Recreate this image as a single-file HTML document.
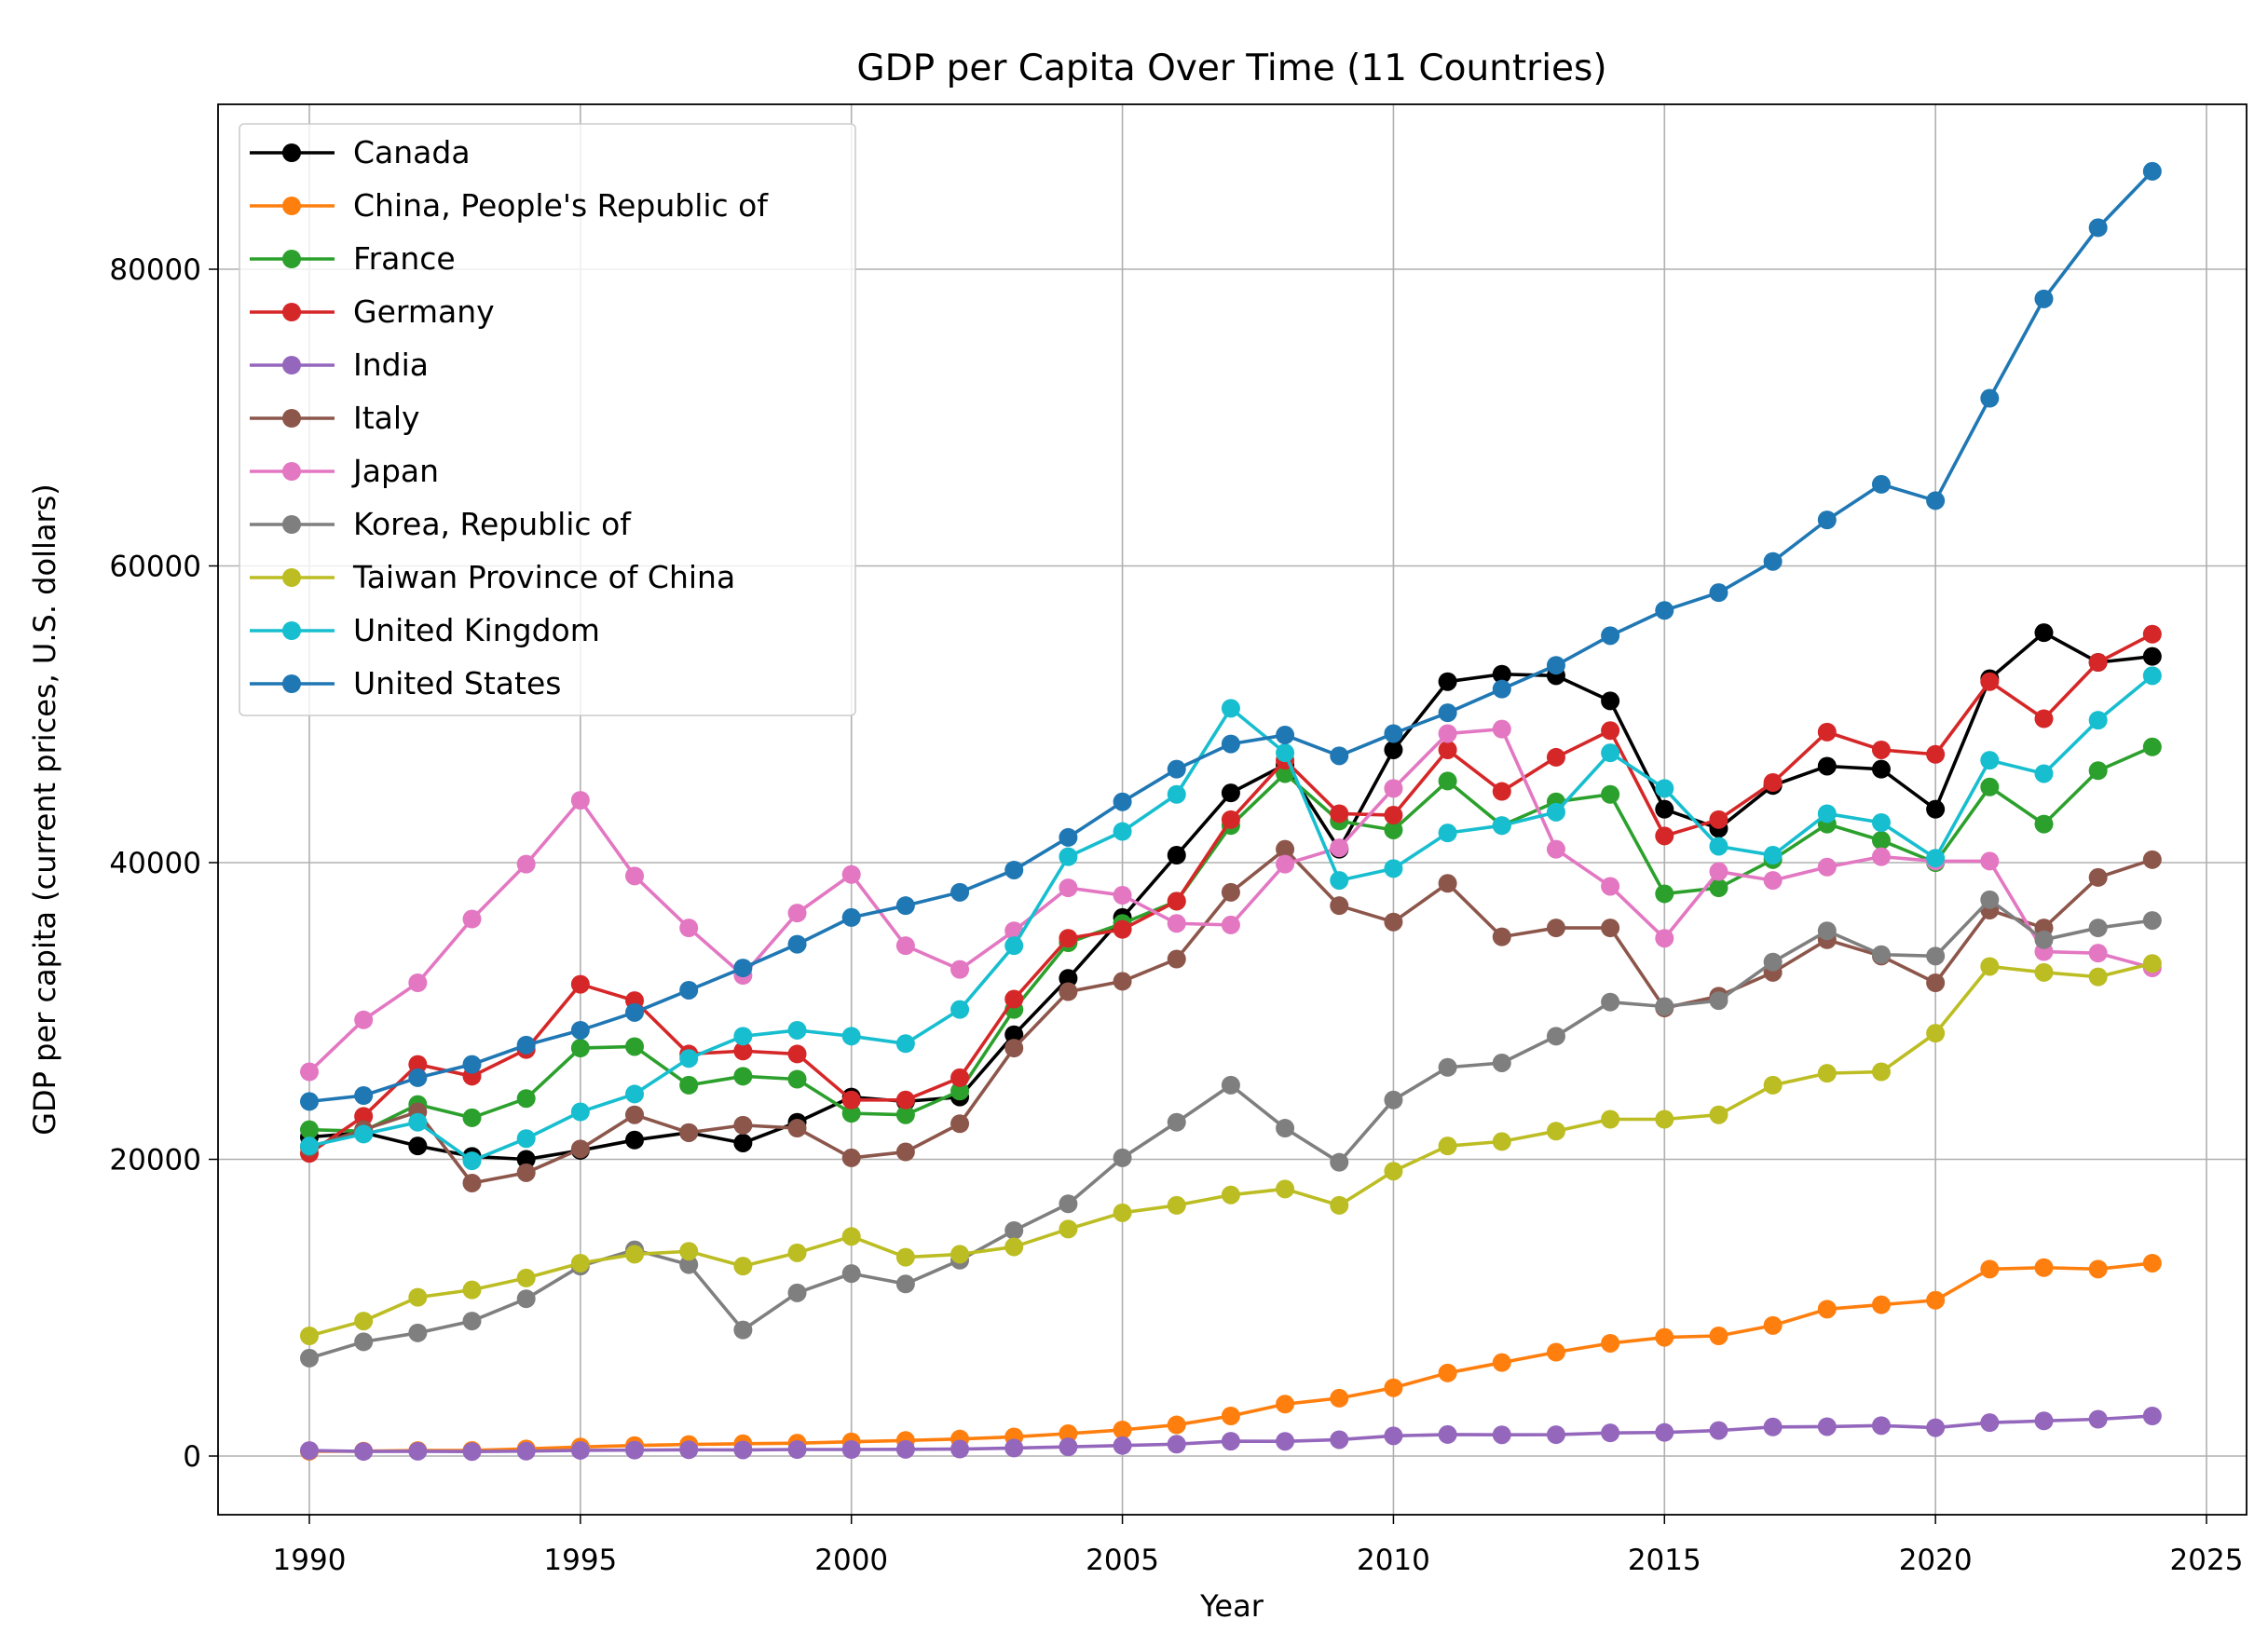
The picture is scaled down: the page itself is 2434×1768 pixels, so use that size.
<!DOCTYPE html>
<html><head><meta charset="utf-8"><style>
html,body{margin:0;padding:0;background:#fff;}
svg text{font-family:"DejaVu Sans","Liberation Sans",sans-serif;fill:#000;}
</style></head><body>
<svg id="chart" width="2434" height="1763" xmlns="http://www.w3.org/2000/svg"></svg>
<script>
const years=[];for(let y=1990;y<=2024;y++)years.push(y);
const xTicks=[1990,1995,2000,2005,2010,2015,2020,2025];
const yTicks=[0,20000,40000,60000,80000];
const names=["Canada","China, People's Republic of","France","Germany","India","Italy","Japan","Korea, Republic of","Taiwan Province of China","United Kingdom","United States"];
const colors=["#000000","#ff7f0e","#2ca02c","#d62728","#9467bd","#8c564b","#e377c2","#7f7f7f","#bcbd22","#17becf","#1f77b4"];
const canada=[21500,21800,20900,20200,20000,20600,21300,21800,21100,22500,24200,23900,24200,28400,32200,36300,40500,44700,46600,40900,47600,52200,52700,52600,50900,43600,42300,45200,46500,46300,43600,52400,55500,53500,53900];
const china=[320,330,370,380,480,610,710,780,830,870,960,1050,1150,1290,1510,1760,2100,2700,3500,3900,4600,5600,6300,7000,7600,8000,8100,8800,9900,10200,10500,12600,12700,12600,13000];
const france=[22000,21900,23700,22800,24100,27500,27600,25000,25600,25400,23100,23000,24600,30100,34600,35900,37400,42500,46000,42800,42200,45500,42500,44100,44600,37900,38300,40200,42600,41500,40000,45100,42600,46200,47800];
const germany=[20400,22900,26400,25600,27400,31800,30700,27100,27300,27100,24000,24000,25500,30800,34900,35500,37400,42900,46900,43300,43200,47600,44800,47100,48900,41800,42900,45400,48800,47600,47300,52200,49700,53500,55400];
const india=[370,310,320,300,330,380,400,420,410,440,440,450,470,540,620,710,800,1000,990,1100,1360,1450,1430,1440,1560,1590,1720,1960,1980,2050,1910,2250,2370,2480,2700];
const italy=[20800,22000,23200,18400,19100,20700,23000,21800,22300,22100,20100,20500,22400,27500,31300,32000,33500,38000,40900,37100,36000,38600,35000,35600,35600,30200,31000,32600,34800,33700,31900,36800,35600,39000,40200];
const japan=[25900,29400,31900,36200,39900,44200,39100,35600,32400,36600,39200,34400,32800,35400,38300,37800,35900,35800,39900,41000,45000,48700,49000,40900,38400,34900,39400,38800,39700,40400,40100,40100,34000,33900,32900];
const korea=[6600,7700,8300,9100,10600,12800,13900,12900,8500,11000,12300,11600,13200,15200,17000,20100,22500,25000,22100,19800,24000,26200,26500,28300,30600,30300,30700,33300,35400,33800,33700,37500,34800,35600,36100];
const taiwan=[8100,9100,10700,11200,12000,13000,13600,13800,12800,13700,14800,13400,13600,14100,15300,16400,16900,17600,18000,16900,19200,20900,21200,21900,22700,22700,23000,25000,25800,25900,28500,33000,32600,32300,33200];
const uk=[20900,21700,22500,19900,21400,23200,24400,26800,28300,28700,28300,27800,30100,34400,40400,42100,44600,50400,47400,38800,39600,42000,42500,43400,47400,45000,41100,40500,43300,42700,40300,46900,46000,49600,52600];
const us=[23900,24300,25500,26400,27700,28700,29900,31400,32900,34500,36300,37100,38000,39500,41700,44100,46300,48000,48600,47200,48700,50100,51700,53300,55300,57000,58200,60300,63100,65500,64400,71300,78000,82800,86600];
const series=[canada,china,france,germany,india,italy,japan,korea,taiwan,uk,us];

const L=234,R=2411,T=112,B=1626;
const xs=y=>332+(y-1990)*(2368-332)/35;
const ys=v=>1563-v*(1563-289)/80000;
const svg=document.getElementById('chart');
const NS="http://www.w3.org/2000/svg";
function mk(tag,attrs,parent){const e=document.createElementNS(NS,tag);for(const k in attrs)e.setAttribute(k,attrs[k]);(parent||svg).appendChild(e);return e;}

const grid=mk('g',{});


xTicks.forEach(t=>{
  const x=xs(t);
  mk('line',{x1:x,x2:x,y1:T,y2:B,stroke:'#b0b0b0','stroke-width':1.6},grid);
  mk('line',{x1:x,x2:x,y1:B,y2:B+10,stroke:'#000','stroke-width':1.5});
  const tx=mk('text',{x:x,y:1685,'font-size':31,'text-anchor':'middle'});tx.textContent=t;
  
  
});
yTicks.forEach(t=>{
  const y=ys(t);
  mk('line',{x1:L,x2:R,y1:y,y2:y,stroke:'#b0b0b0','stroke-width':1.6},grid);
  mk('line',{x1:L-10,x2:L,y1:y,y2:y,stroke:'#000','stroke-width':1.5});
  const tx=mk('text',{x:L-18,y:y+11,'font-size':31,'text-anchor':'end'});tx.textContent=t;
  
  
});

series.forEach((d,i)=>{
  const g=mk('g',{});
  
  
  mk('polyline',{points:d.map((v,j)=>xs(years[j])+','+ys(v)).join(' '),fill:'none',stroke:colors[i],'stroke-width':3.6,'stroke-linejoin':'round'},g);
  d.forEach((v,j)=>{
    const c=mk('circle',{cx:xs(years[j]),cy:ys(v),r:10,fill:colors[i]},g);
    
    
  });
});

const frame=mk('rect',{x:L,y:T,width:R-L,height:B-T,fill:'none',stroke:'#000','stroke-width':1.8});



const leg=mk('g',{});


mk('rect',{x:257,y:133,width:661,height:635,rx:5,fill:'#fff','fill-opacity':0.8,stroke:'#ccc','stroke-width':1.6},leg);
names.forEach((n,i)=>{
  const y=164+i*57;
  const e=mk('g',{},leg);
  
  
  mk('line',{x1:268,x2:359,y1:y,y2:y,stroke:colors[i],'stroke-width':3.6},e);
  mk('circle',{cx:313,cy:y,r:10,fill:colors[i]},e);
  const t=mk('text',{x:379,y:y+11,'font-size':33},e);t.textContent=n;
});

const title=mk('text',{x:1322,y:86,'font-size':39,'text-anchor':'middle'});title.textContent='GDP per Capita Over Time (11 Countries)';


const xl=mk('text',{x:1322,y:1735,'font-size':32,'text-anchor':'middle'});xl.textContent='Year';


const yl=mk('text',{x:0,y:0,'font-size':32,'text-anchor':'middle',transform:'translate(59,869) rotate(-90)'});yl.textContent='GDP per capita (current prices, U.S. dollars)';


</script>
</body></html>
